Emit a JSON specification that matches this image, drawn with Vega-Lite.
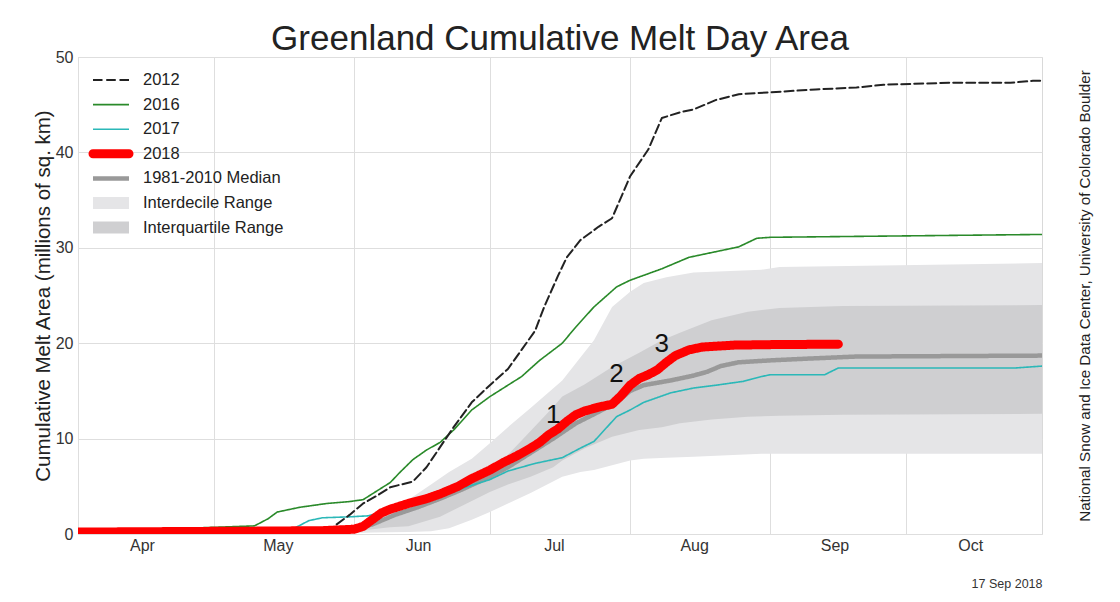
{
  "$schema": "https://vega.github.io/schema/vega-lite/v6.json",
  "width": 964,
  "height": 477,
  "autosize": "none",
  "padding": {"left": 78, "top": 57, "right": 78, "bottom": 68},
  "background": "white",
  "title": {"text": "Greenland Cumulative Melt Day Area", "fontSize": 35, "font": "Liberation Sans", "fontWeight": "normal", "color": "#222", "anchor": "middle", "frame": "group", "offset": -8},
  "config": {
    "font": "Liberation Sans",
    "view": {"stroke": "#d9d9d9"},
    "axis": {"gridColor": "#dedede", "labelFont": "Liberation Sans", "titleFont": "Liberation Sans"}
  },
  "datasets": {
    "lines": [
      {"series": "1981-2010 Median", "date": "2018-04-01", "value": 0.05},
      {"series": "1981-2010 Median", "date": "2018-05-01", "value": 0.1},
      {"series": "1981-2010 Median", "date": "2018-05-20", "value": 0.2},
      {"series": "1981-2010 Median", "date": "2018-05-28", "value": 0.35},
      {"series": "1981-2010 Median", "date": "2018-06-01", "value": 0.5},
      {"series": "1981-2010 Median", "date": "2018-06-05", "value": 1.0},
      {"series": "1981-2010 Median", "date": "2018-06-10", "value": 2.0},
      {"series": "1981-2010 Median", "date": "2018-06-15", "value": 2.8},
      {"series": "1981-2010 Median", "date": "2018-06-20", "value": 3.7},
      {"series": "1981-2010 Median", "date": "2018-06-25", "value": 4.7},
      {"series": "1981-2010 Median", "date": "2018-07-01", "value": 6.0},
      {"series": "1981-2010 Median", "date": "2018-07-05", "value": 7.0},
      {"series": "1981-2010 Median", "date": "2018-07-10", "value": 8.5},
      {"series": "1981-2010 Median", "date": "2018-07-15", "value": 10.0},
      {"series": "1981-2010 Median", "date": "2018-07-20", "value": 11.6},
      {"series": "1981-2010 Median", "date": "2018-07-25", "value": 12.8},
      {"series": "1981-2010 Median", "date": "2018-07-29", "value": 13.8},
      {"series": "1981-2010 Median", "date": "2018-08-01", "value": 15.0},
      {"series": "1981-2010 Median", "date": "2018-08-04", "value": 15.6},
      {"series": "1981-2010 Median", "date": "2018-08-10", "value": 16.1},
      {"series": "1981-2010 Median", "date": "2018-08-15", "value": 16.6},
      {"series": "1981-2010 Median", "date": "2018-08-18", "value": 17.0},
      {"series": "1981-2010 Median", "date": "2018-08-21", "value": 17.6},
      {"series": "1981-2010 Median", "date": "2018-08-25", "value": 18.0},
      {"series": "1981-2010 Median", "date": "2018-09-01", "value": 18.2},
      {"series": "1981-2010 Median", "date": "2018-09-10", "value": 18.4},
      {"series": "1981-2010 Median", "date": "2018-09-20", "value": 18.6},
      {"series": "1981-2010 Median", "date": "2018-10-31", "value": 18.7},
      {"series": "2017", "date": "2018-04-01", "value": 0.1},
      {"series": "2017", "date": "2018-05-10", "value": 0.3},
      {"series": "2017", "date": "2018-05-18", "value": 0.4},
      {"series": "2017", "date": "2018-05-20", "value": 0.9},
      {"series": "2017", "date": "2018-05-22", "value": 1.4},
      {"series": "2017", "date": "2018-05-25", "value": 1.7},
      {"series": "2017", "date": "2018-05-31", "value": 1.8},
      {"series": "2017", "date": "2018-06-04", "value": 1.9},
      {"series": "2017", "date": "2018-06-10", "value": 2.6},
      {"series": "2017", "date": "2018-06-15", "value": 3.2},
      {"series": "2017", "date": "2018-06-20", "value": 3.9},
      {"series": "2017", "date": "2018-06-25", "value": 4.8},
      {"series": "2017", "date": "2018-07-01", "value": 5.7},
      {"series": "2017", "date": "2018-07-05", "value": 6.6},
      {"series": "2017", "date": "2018-07-11", "value": 7.4},
      {"series": "2017", "date": "2018-07-15", "value": 7.8},
      {"series": "2017", "date": "2018-07-17", "value": 8.0},
      {"series": "2017", "date": "2018-07-21", "value": 9.0},
      {"series": "2017", "date": "2018-07-24", "value": 9.7},
      {"series": "2017", "date": "2018-07-29", "value": 12.3},
      {"series": "2017", "date": "2018-08-01", "value": 13.0},
      {"series": "2017", "date": "2018-08-04", "value": 13.8},
      {"series": "2017", "date": "2018-08-10", "value": 14.8},
      {"series": "2017", "date": "2018-08-15", "value": 15.3},
      {"series": "2017", "date": "2018-08-20", "value": 15.6},
      {"series": "2017", "date": "2018-08-26", "value": 16.0},
      {"series": "2017", "date": "2018-08-30", "value": 16.5},
      {"series": "2017", "date": "2018-09-01", "value": 16.7},
      {"series": "2017", "date": "2018-09-13", "value": 16.7},
      {"series": "2017", "date": "2018-09-16", "value": 17.4},
      {"series": "2017", "date": "2018-10-25", "value": 17.4},
      {"series": "2017", "date": "2018-10-31", "value": 17.6},
      {"series": "2016", "date": "2018-04-01", "value": 0.2},
      {"series": "2016", "date": "2018-04-15", "value": 0.3},
      {"series": "2016", "date": "2018-04-25", "value": 0.6},
      {"series": "2016", "date": "2018-05-01", "value": 0.7},
      {"series": "2016", "date": "2018-05-10", "value": 0.85},
      {"series": "2016", "date": "2018-05-13", "value": 1.6},
      {"series": "2016", "date": "2018-05-15", "value": 2.3},
      {"series": "2016", "date": "2018-05-20", "value": 2.8},
      {"series": "2016", "date": "2018-05-26", "value": 3.2},
      {"series": "2016", "date": "2018-05-31", "value": 3.4},
      {"series": "2016", "date": "2018-06-03", "value": 3.6},
      {"series": "2016", "date": "2018-06-06", "value": 4.5},
      {"series": "2016", "date": "2018-06-09", "value": 5.4},
      {"series": "2016", "date": "2018-06-11", "value": 6.4},
      {"series": "2016", "date": "2018-06-14", "value": 7.8},
      {"series": "2016", "date": "2018-06-17", "value": 8.8},
      {"series": "2016", "date": "2018-06-20", "value": 9.6},
      {"series": "2016", "date": "2018-06-23", "value": 10.9},
      {"series": "2016", "date": "2018-06-27", "value": 13.0},
      {"series": "2016", "date": "2018-07-01", "value": 14.4},
      {"series": "2016", "date": "2018-07-05", "value": 15.6},
      {"series": "2016", "date": "2018-07-08", "value": 16.5},
      {"series": "2016", "date": "2018-07-12", "value": 18.2},
      {"series": "2016", "date": "2018-07-17", "value": 20.0},
      {"series": "2016", "date": "2018-07-20", "value": 21.7},
      {"series": "2016", "date": "2018-07-24", "value": 23.8},
      {"series": "2016", "date": "2018-07-29", "value": 25.9},
      {"series": "2016", "date": "2018-08-01", "value": 26.6},
      {"series": "2016", "date": "2018-08-08", "value": 27.8},
      {"series": "2016", "date": "2018-08-14", "value": 29.0},
      {"series": "2016", "date": "2018-08-20", "value": 29.6},
      {"series": "2016", "date": "2018-08-25", "value": 30.1},
      {"series": "2016", "date": "2018-08-29", "value": 31.0},
      {"series": "2016", "date": "2018-09-01", "value": 31.1},
      {"series": "2016", "date": "2018-10-31", "value": 31.4},
      {"series": "2012", "date": "2018-04-01", "value": 0.2},
      {"series": "2012", "date": "2018-05-10", "value": 0.4},
      {"series": "2012", "date": "2018-05-27", "value": 0.6},
      {"series": "2012", "date": "2018-05-31", "value": 2.0},
      {"series": "2012", "date": "2018-06-03", "value": 3.2},
      {"series": "2012", "date": "2018-06-06", "value": 4.0},
      {"series": "2012", "date": "2018-06-09", "value": 4.9},
      {"series": "2012", "date": "2018-06-14", "value": 5.5},
      {"series": "2012", "date": "2018-06-17", "value": 7.0},
      {"series": "2012", "date": "2018-06-20", "value": 9.1},
      {"series": "2012", "date": "2018-06-23", "value": 11.2},
      {"series": "2012", "date": "2018-06-27", "value": 13.8},
      {"series": "2012", "date": "2018-07-01", "value": 15.6},
      {"series": "2012", "date": "2018-07-05", "value": 17.3},
      {"series": "2012", "date": "2018-07-08", "value": 19.3},
      {"series": "2012", "date": "2018-07-11", "value": 21.3},
      {"series": "2012", "date": "2018-07-13", "value": 23.8},
      {"series": "2012", "date": "2018-07-16", "value": 27.0},
      {"series": "2012", "date": "2018-07-18", "value": 29.0},
      {"series": "2012", "date": "2018-07-21", "value": 30.8},
      {"series": "2012", "date": "2018-07-25", "value": 32.2},
      {"series": "2012", "date": "2018-07-28", "value": 33.1},
      {"series": "2012", "date": "2018-08-01", "value": 37.5},
      {"series": "2012", "date": "2018-08-05", "value": 40.3},
      {"series": "2012", "date": "2018-08-08", "value": 43.6},
      {"series": "2012", "date": "2018-08-12", "value": 44.2},
      {"series": "2012", "date": "2018-08-15", "value": 44.5},
      {"series": "2012", "date": "2018-08-20", "value": 45.5},
      {"series": "2012", "date": "2018-08-25", "value": 46.1},
      {"series": "2012", "date": "2018-09-01", "value": 46.3},
      {"series": "2012", "date": "2018-09-11", "value": 46.6},
      {"series": "2012", "date": "2018-09-20", "value": 46.8},
      {"series": "2012", "date": "2018-09-26", "value": 47.1},
      {"series": "2012", "date": "2018-10-11", "value": 47.3},
      {"series": "2012", "date": "2018-10-24", "value": 47.3},
      {"series": "2012", "date": "2018-10-29", "value": 47.5},
      {"series": "2012", "date": "2018-10-31", "value": 47.5},
      {"series": "2018", "date": "2018-04-01", "value": 0.2},
      {"series": "2018", "date": "2018-04-20", "value": 0.25},
      {"series": "2018", "date": "2018-05-10", "value": 0.3},
      {"series": "2018", "date": "2018-05-25", "value": 0.35},
      {"series": "2018", "date": "2018-06-01", "value": 0.5},
      {"series": "2018", "date": "2018-06-03", "value": 0.8},
      {"series": "2018", "date": "2018-06-05", "value": 1.5},
      {"series": "2018", "date": "2018-06-07", "value": 2.2},
      {"series": "2018", "date": "2018-06-09", "value": 2.6},
      {"series": "2018", "date": "2018-06-13", "value": 3.2},
      {"series": "2018", "date": "2018-06-17", "value": 3.7},
      {"series": "2018", "date": "2018-06-20", "value": 4.2},
      {"series": "2018", "date": "2018-06-24", "value": 5.0},
      {"series": "2018", "date": "2018-06-27", "value": 5.8},
      {"series": "2018", "date": "2018-07-01", "value": 6.7},
      {"series": "2018", "date": "2018-07-04", "value": 7.5},
      {"series": "2018", "date": "2018-07-07", "value": 8.2},
      {"series": "2018", "date": "2018-07-10", "value": 9.0},
      {"series": "2018", "date": "2018-07-12", "value": 9.6},
      {"series": "2018", "date": "2018-07-14", "value": 10.4},
      {"series": "2018", "date": "2018-07-16", "value": 11.0},
      {"series": "2018", "date": "2018-07-18", "value": 11.8},
      {"series": "2018", "date": "2018-07-20", "value": 12.5},
      {"series": "2018", "date": "2018-07-22", "value": 12.9},
      {"series": "2018", "date": "2018-07-25", "value": 13.3},
      {"series": "2018", "date": "2018-07-28", "value": 13.6},
      {"series": "2018", "date": "2018-07-30", "value": 14.5},
      {"series": "2018", "date": "2018-08-01", "value": 15.6},
      {"series": "2018", "date": "2018-08-03", "value": 16.3},
      {"series": "2018", "date": "2018-08-05", "value": 16.7},
      {"series": "2018", "date": "2018-08-07", "value": 17.2},
      {"series": "2018", "date": "2018-08-09", "value": 18.0},
      {"series": "2018", "date": "2018-08-11", "value": 18.7},
      {"series": "2018", "date": "2018-08-14", "value": 19.3},
      {"series": "2018", "date": "2018-08-17", "value": 19.6},
      {"series": "2018", "date": "2018-08-24", "value": 19.8},
      {"series": "2018", "date": "2018-09-01", "value": 19.85},
      {"series": "2018", "date": "2018-09-16", "value": 19.9}
    ],
    "decile": [
      {"date": "2018-04-01", "lo": 0, "hi": 0.3},
      {"date": "2018-05-20", "lo": 0.05, "hi": 0.4},
      {"date": "2018-06-01", "lo": 0.1, "hi": 0.8},
      {"date": "2018-06-05", "lo": 0.15, "hi": 1.8},
      {"date": "2018-06-13", "lo": 0.2, "hi": 3.6},
      {"date": "2018-06-18", "lo": 0.3, "hi": 5.2},
      {"date": "2018-06-22", "lo": 0.6, "hi": 6.5},
      {"date": "2018-06-27", "lo": 1.5, "hi": 7.9},
      {"date": "2018-07-01", "lo": 2.3, "hi": 9.5},
      {"date": "2018-07-05", "lo": 3.2, "hi": 11.2},
      {"date": "2018-07-10", "lo": 4.3, "hi": 13.2},
      {"date": "2018-07-17", "lo": 6.0, "hi": 16.1},
      {"date": "2018-07-21", "lo": 6.5, "hi": 18.5},
      {"date": "2018-07-24", "lo": 6.7, "hi": 20.3},
      {"date": "2018-07-28", "lo": 7.2, "hi": 23.8},
      {"date": "2018-08-01", "lo": 7.7, "hi": 25.4},
      {"date": "2018-08-04", "lo": 7.9, "hi": 26.3},
      {"date": "2018-08-09", "lo": 8.0, "hi": 26.9},
      {"date": "2018-08-15", "lo": 8.1, "hi": 27.4},
      {"date": "2018-08-30", "lo": 8.4, "hi": 27.7},
      {"date": "2018-09-03", "lo": 8.4, "hi": 28.0},
      {"date": "2018-10-31", "lo": 8.4, "hi": 28.4}
    ],
    "quartile": [
      {"date": "2018-04-01", "lo": 0.05, "hi": 0.2},
      {"date": "2018-06-01", "lo": 0.3, "hi": 0.6},
      {"date": "2018-06-05", "lo": 0.5, "hi": 1.3},
      {"date": "2018-06-09", "lo": 0.7, "hi": 1.8},
      {"date": "2018-06-13", "lo": 0.8, "hi": 2.6},
      {"date": "2018-06-20", "lo": 1.8, "hi": 3.9},
      {"date": "2018-06-25", "lo": 3.0, "hi": 5.2},
      {"date": "2018-07-01", "lo": 4.4, "hi": 6.7},
      {"date": "2018-07-05", "lo": 5.2, "hi": 8.3},
      {"date": "2018-07-10", "lo": 6.0, "hi": 10.8},
      {"date": "2018-07-15", "lo": 7.0, "hi": 13.3},
      {"date": "2018-07-17", "lo": 7.7, "hi": 14.4},
      {"date": "2018-07-22", "lo": 9.0, "hi": 15.7},
      {"date": "2018-07-28", "lo": 10.2, "hi": 17.5},
      {"date": "2018-08-03", "lo": 10.9, "hi": 19.0},
      {"date": "2018-08-08", "lo": 11.2, "hi": 20.3},
      {"date": "2018-08-12", "lo": 11.6, "hi": 21.1},
      {"date": "2018-08-19", "lo": 12.0, "hi": 22.4},
      {"date": "2018-08-27", "lo": 12.3, "hi": 23.3},
      {"date": "2018-09-03", "lo": 12.4, "hi": 23.7},
      {"date": "2018-09-17", "lo": 12.5, "hi": 23.9},
      {"date": "2018-10-31", "lo": 12.6, "hi": 24.0}
    ],
    "labels": [
      {"date": "2018-07-15", "value": 12.5, "label": "1"},
      {"date": "2018-07-29", "value": 16.8, "label": "2"},
      {"date": "2018-08-08", "value": 19.9, "label": "3"}
    ]
  },
  "resolve": {"axis": {"y": "independent"}},
  "encoding": {
    "x": {
      "field": "date", "type": "temporal",
      "scale": {"type": "utc", "domain": [{"year": 2018, "month": 4, "date": 1, "utc": true}, {"year": 2018, "month": 10, "date": 31, "utc": true}]},
      "axis": {
        "title": "17 Sep 2018", "titleAnchor": "end", "titleAlign": "right", "titleFontSize": 12.5, "titleFontWeight": "normal", "titleColor": "#333", "titlePadding": 24,
        "tickCount": {"interval": "month", "step": 1}, "format": "%b", "labelOffset": 64, "labelFlush": false, "labelOverlap": false,
        "labelFontSize": 16, "labelColor": "#333", "labelPadding": 3, "ticks": false, "domain": false, "grid": true
      }
    }
  },
  "layer": [
    {
      "data": {"name": "decile"},
      "mark": {"type": "area", "color": "#e5e5e7", "opacity": 1},
      "encoding": {
        "y": {
          "field": "lo", "type": "quantitative",
          "scale": {"domain": [0, 50], "nice": false},
          "axis": {
            "title": "Cumulative Melt Area (millions of sq. km)", "titleFontSize": 20.5, "titleFontWeight": "normal", "titleColor": "#222", "titlePadding": 2,
            "values": [0, 10, 20, 30, 40, 50], "labelFontSize": 16, "labelColor": "#333", "labelPadding": 5, "ticks": false, "domain": false, "grid": true
          }
        },
        "y2": {"field": "hi"}
      }
    },
    {
      "data": {"name": "quartile"},
      "mark": {"type": "area", "color": "#cfcfd1", "opacity": 1},
      "encoding": {
        "y": {"field": "lo", "type": "quantitative", "axis": null},
        "y2": {"field": "hi"}
      }
    },
    {
      "data": {"name": "lines"},
      "mark": {"type": "line", "strokeJoin": "round", "strokeCap": "round", "clip": true},
      "encoding": {
        "y": {"field": "value", "type": "quantitative", "axis": null},
        "color": {
          "field": "series", "type": "nominal",
          "scale": {"domain": ["2012", "2016", "2017", "2018", "1981-2010 Median", "Interdecile Range", "Interquartile Range"], "range": ["#222222", "#2a8a2a", "#2bb8b8", "#ff0000", "#999999", "#e5e5e7", "#cfcfd1"]},
          "legend": {
            "title": null, "orient": "none", "legendX": 24.75, "legendY": 14.75, "symbolType": "square", "symbolSize": 16,
            "symbolStrokeWidth": 0, "symbolStrokeColor": "transparent",
            "labelFontSize": 16.5, "labelColor": "#222", "labelFont": "Liberation Sans", "labelOffset": 23.75, "rowPadding": 7.6, "padding": 0,
            "encode": {"symbols": {"update": {
              "shape": {"signal": "datum.value === '2012' ? 'M-9,-0.5L-4.25,-0.5L-4.25,0.5L-9,0.5Z M-2.375,-0.5L2.375,-0.5L2.375,0.5L-2.375,0.5Z M4.25,-0.5L9,-0.5L9,0.5L4.25,0.5Z' : datum.value === '2018' ? 'M-9,-2.25L9,-2.25A2.25,2.25,0,0,1,9,2.25L-9,2.25A2.25,2.25,0,0,1,-9,-2.25Z' : datum.value === '1981-2010 Median' ? 'M-9,-1.125L9,-1.125L9,1.125L-9,1.125Z' : (datum.value === 'Interdecile Range' || datum.value === 'Interquartile Range') ? 'M-9,-3L9,-3L9,3L-9,3Z' : 'M-9,-0.4L9,-0.4L9,0.4L-9,0.4Z'"},
              "fill": {"signal": "datum.value === '2012' ? '#222222' : datum.value === '2016' ? '#2a8a2a' : datum.value === '2017' ? '#2bb8b8' : datum.value === '2018' ? '#ff0000' : datum.value === '1981-2010 Median' ? '#999999' : datum.value === 'Interdecile Range' ? '#e5e5e7' : '#cfcfd1'"},
              "fillOpacity": {"value": 1},
              "opacity": {"value": 1},
              "stroke": {"value": "transparent"},
              "strokeWidth": {"value": 0}
            }}}
          }
        },
        "strokeDash": {
          "condition": {"test": "datum.series === '2012'", "value": [9, 4]},
          "value": [1, 0]
        },
        "strokeWidth": {
          "condition": [
            {"test": "datum.series === '2018'", "value": 9},
            {"test": "datum.series === '1981-2010 Median'", "value": 4.5},
            {"test": "datum.series === '2012'", "value": 2}
          ],
          "value": 1.6
        }
      }
    },
    {
      "data": {"name": "labels"},
      "mark": {"type": "text", "fontSize": 26, "font": "Liberation Sans", "color": "#111", "align": "center", "baseline": "middle"},
      "encoding": {
        "y": {
          "field": "value", "type": "quantitative",
          "axis": {"orient": "right", "title": "National Snow and Ice Data Center, University of Colorado Boulder", "titleFontSize": 15.2, "titleFontWeight": "normal", "titleColor": "#222", "titleAngle": 270, "titlePadding": 50, "labels": false, "ticks": false, "domain": false, "grid": false}
        },
        "text": {"field": "label"}
      }
    }
  ]
}
